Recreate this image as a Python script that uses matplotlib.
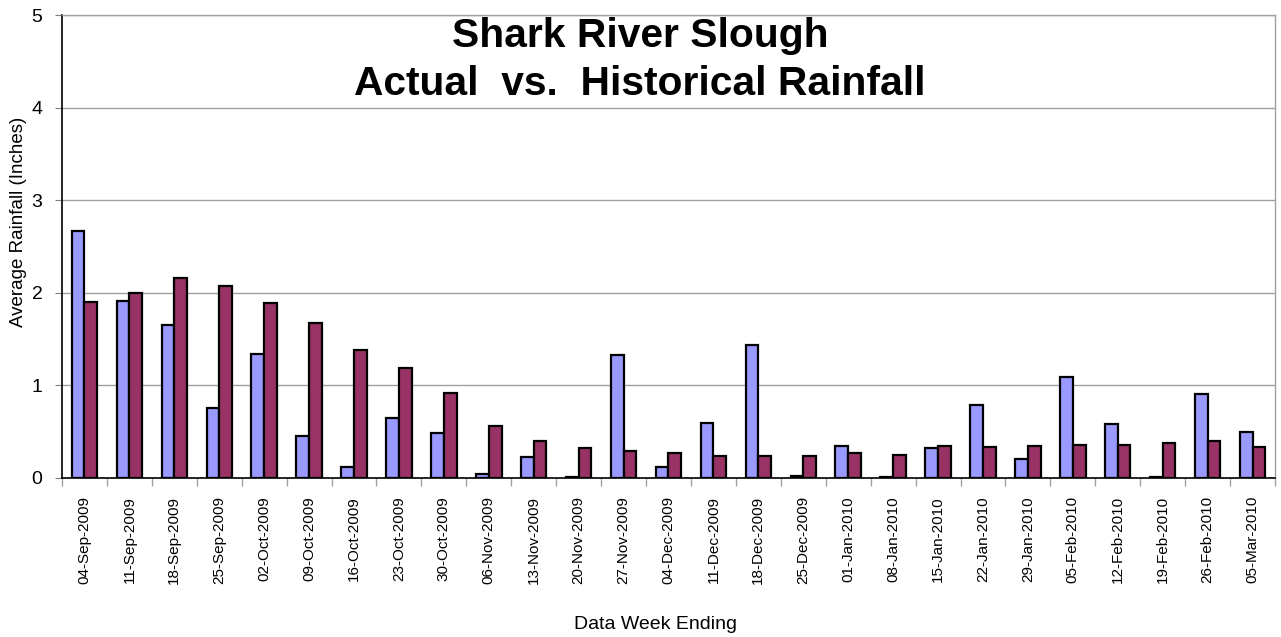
import matplotlib
matplotlib.use("Agg")
import matplotlib.pyplot as plt
import numpy as np

plt.rcParams['font.family'] = ['Liberation Sans', 'DejaVu Sans']

weeks = ["04-Sep-2009", "11-Sep-2009", "18-Sep-2009", "25-Sep-2009", "02-Oct-2009",
         "09-Oct-2009", "16-Oct-2009", "23-Oct-2009", "30-Oct-2009", "06-Nov-2009",
         "13-Nov-2009", "20-Nov-2009", "27-Nov-2009", "04-Dec-2009", "11-Dec-2009",
         "18-Dec-2009", "25-Dec-2009", "01-Jan-2010", "08-Jan-2010", "15-Jan-2010",
         "22-Jan-2010", "29-Jan-2010", "05-Feb-2010", "12-Feb-2010", "19-Feb-2010",
         "26-Feb-2010", "05-Mar-2010"]
actual = [2.67, 1.91, 1.65, 0.76, 1.34, 0.45, 0.12, 0.65, 0.49, 0.04,
          0.23, 0.01, 1.33, 0.12, 0.59, 1.44, 0.02, 0.35, 0.01, 0.32,
          0.79, 0.20, 1.09, 0.58, 0.01, 0.91, 0.50]
historical = [1.90, 2.00, 2.16, 2.07, 1.89, 1.67, 1.38, 1.19, 0.92, 0.56,
              0.40, 0.32, 0.29, 0.27, 0.24, 0.24, 0.24, 0.27, 0.25, 0.35,
              0.34, 0.35, 0.355, 0.355, 0.38, 0.40, 0.34]
yticks = [0, 1, 2, 3, 4, 5]

W, H = 1281, 637
fig = plt.figure(figsize=(W/100, H/100), dpi=100)
ax = fig.add_axes([62/W, 1-478/H, (1275-62)/W, (478-15)/H])

x = np.arange(len(weeks))
w = 0.283
ax.bar(x - w/2, actual, w, color='#9999FF', edgecolor='black', linewidth=1.6, zorder=3)
ax.bar(x + w/2, historical, w, color='#993366', edgecolor='black', linewidth=1.6, zorder=3)

ax.set_xlim(-0.5, len(weeks) - 0.5)
ax.set_ylim(0, 5)
ax.set_yticks(yticks)
ax.set_yticklabels([str(v) for v in yticks], fontsize=14)
ax.yaxis.grid(True, color='#a0a0a0', linewidth=1.0, zorder=0)
ax.tick_params(axis='y', length=5, color='#808080', pad=9)

ax.set_xticks(x)
ax.set_xticklabels(weeks, rotation=90, fontsize=11)
ax.set_xticks(np.arange(len(weeks) + 1) - 0.5, minor=True)
ax.tick_params(axis='x', which='major', length=0, pad=13)
ax.tick_params(axis='x', which='minor', length=6, color='#a0a0a0', width=1)

for s in ['top', 'right']:
    ax.spines[s].set_color('#a0a0a0')
    ax.spines[s].set_linewidth(1.0)
ax.spines['left'].set_color('black')
ax.spines['bottom'].set_color('black')
ax.spines['left'].set_linewidth(1.2)
ax.spines['bottom'].set_linewidth(1.2)

fig.text(19/W, 1 - 222/H, 'Average Rainfall (Inches)', rotation=90,
         ha='center', va='center', fontsize=13.5)
fig.text(655/W, 1 - 629/H, 'Data Week Ending', ha='center', va='baseline', fontsize=14)

fig.text(640/W, 1 - 47/H, 'Shark River Slough', ha='center', va='baseline',
         fontsize=29.3, fontweight='bold')
fig.text(640/W, 1 - 95/H, 'Actual  vs.  Historical Rainfall', ha='center', va='baseline',
         fontsize=29.3, fontweight='bold')

fig.savefig('out.png', dpi=100)
